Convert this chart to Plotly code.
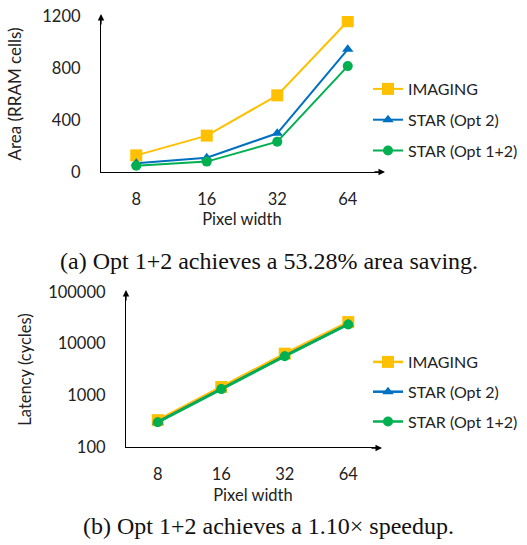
import plotly.graph_objects as go

W, H = 527, 545

categories = ["8", "16", "32", "64"]
series_names = ["IMAGING", "STAR (Opt 2)", "STAR (Opt 1+2)"]
colors = ["#FFC000", "#0070C0", "#00B050"]
symbols = ["square", "triangle-up", "circle"]
msizes = [12, 10, 10]

area_imaging = [128, 280, 590, 1160]
area_opt2 = [67, 110, 298, 944]
area_opt12 = [48, 80, 233, 815]

lat_imaging = [330, 1450, 6400, 26200]
lat_opt2 = [305, 1340, 5800, 24000]
lat_opt12 = [300, 1320, 5700, 23600]

FONT = "Lato"
FS = 16.5
LFS = 16
fig = go.Figure()

area = [area_imaging, area_opt2, area_opt12]
lat = [lat_imaging, lat_opt2, lat_opt12]
for i, name in enumerate(series_names):
    fig.add_trace(go.Scatter(x=categories, y=area[i], name=name, mode="lines+markers",
                             line=dict(color=colors[i], width=2),
                             marker=dict(symbol=symbols[i], size=msizes[i], color=colors[i]),
                             xaxis="x", yaxis="y", legend="legend", legendgroup="a%d" % i))
for i, name in enumerate(series_names):
    fig.add_trace(go.Scatter(x=categories, y=lat[i], name=name, mode="lines+markers",
                             line=dict(color=colors[i], width=2.5),
                             marker=dict(symbol=symbols[i], size=msizes[i], color=colors[i]),
                             xaxis="x2", yaxis="y2", legend="legend2", legendgroup="b%d" % i))

def px(x):
    return x / W
def py(y):
    return 1 - y / H

tickfont = dict(family=FONT, size=FS, color="#222")
common_x = dict(type="category", range=[-0.5, 3.5], showline=True, linecolor="#000", linewidth=1.3,
                showgrid=False, zeroline=False, ticks="outside", ticklen=12, automargin=False,
                tickcolor="rgba(0,0,0,0)", tickfont=tickfont, ticklabeloverflow="allow")
common_y = dict(showline=True, linecolor="#000", linewidth=1.3, showgrid=False, zeroline=False,
                ticks="outside", ticklen=16, tickcolor="rgba(0,0,0,0)", tickfont=tickfont,
                automargin=False, ticklabeloverflow="allow")

fig.update_layout(
    width=W, height=H, margin=dict(l=0, r=0, t=0, b=0, autoexpand=False),
    paper_bgcolor="white", plot_bgcolor="white",
    font=dict(family=FONT, size=FS, color="#222"),
    xaxis=dict(**common_x, domain=[px(101), px(383)], anchor="y",
               title=dict(text="Pixel width", font=dict(family=FONT, size=FS), standoff=4)),
    yaxis=dict(**common_y, domain=[py(172), py(16)], anchor="x", range=[0, 1200.5],
               tickvals=[0, 400, 800, 1200],
               title=dict(text="Area (RRAM cells)", font=dict(family=FONT, size=17), standoff=16)),
    xaxis2=dict(**common_x, domain=[px(126), px(380)], anchor="y2",
                title=dict(text="Pixel width", font=dict(family=FONT, size=FS), standoff=6)),
    yaxis2=dict(**common_y, type="log", domain=[py(447), py(292)], anchor="x2", range=[1.999, 5.001],
                tickvals=[100, 1000, 10000, 100000], ticktext=["100", "1000", "10000", "100000"],
                title=dict(text="Latency (cycles)", font=dict(family=FONT, size=FS), standoff=12)),
    legend=dict(x=px(368), y=py(72), xanchor="left", yanchor="top", bgcolor="rgba(0,0,0,0)",
                font=dict(family=FONT, size=LFS, color="#222"), tracegroupgap=7, itemwidth=30),
    legend2=dict(x=px(368), y=py(345), xanchor="left", yanchor="top", bgcolor="rgba(0,0,0,0)",
                 font=dict(family=FONT, size=LFS, color="#222"), tracegroupgap=6, itemwidth=30),
    showlegend=True,
)

# axis arrowheads
for (x, y, ax, ay) in [(101, 14, 0, 12), (385, 172, -12, 0), (126, 290, 0, 12), (382, 448, -12, 0)]:
    fig.add_annotation(xref="paper", yref="paper", x=px(x), y=py(y), ax=ax, ay=ay, text="",
                       showarrow=True, arrowhead=2, arrowsize=1, arrowwidth=1.3, arrowcolor="#000")

cap = dict(family="Liberation Serif", size=24, color="#111")
fig.add_annotation(xref="paper", yref="paper", x=px(269), y=py(261), text="(a) Opt 1+2 achieves a 53.28% area saving.",
                   showarrow=False, font=cap, xanchor="center", yanchor="middle")
fig.add_annotation(xref="paper", yref="paper", x=px(268), y=py(526), text="(b) Opt 1+2 achieves a 1.10\u00d7 speedup.",
                   showarrow=False, font=cap, xanchor="center", yanchor="middle")

fig.write_html("out.html", config={"displayModeBar": False},
               post_script="document.body.style.margin='0';document.body.style.overflow='hidden';")
